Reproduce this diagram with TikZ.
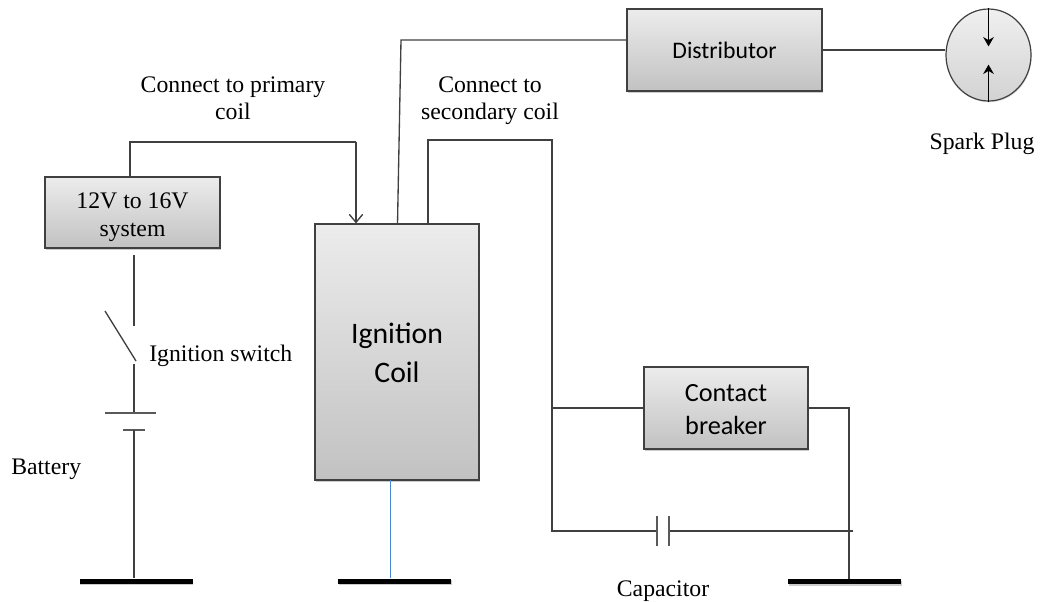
\documentclass[tikz,border=0pt]{standalone}
\usepackage{fontspec}
\setmainfont{Liberation Serif}
\newfontfamily\boxfont{Carlito}
\usetikzlibrary{arrows.meta,positioning,shapes.geometric,shadows}

\tikzset{
  wh/.style 2 args={minimum width=#1*0.75pt, minimum height=#2*0.75pt},
  gbox/.style={draw=black!75, line width=0.9pt, rectangle, inner sep=0pt, align=center,
    top color=gray!15, bottom color=gray!48, drop shadow={shadow xshift=0.8pt, shadow yshift=-1.6pt, opacity=0.4}},
  lbl/.style={inner sep=0pt, align=center, font=\fontsize{17.8}{20.4}\selectfont},
  wire/.style={draw=black!75, line width=1pt},
  plate/.style={draw=black!65, line width=0.9pt},
  gnd/.style={rectangle, fill=black, inner sep=0pt, wh={113}{5},
    drop shadow={shadow xshift=0.6pt, shadow yshift=-1.2pt, opacity=0.4}},
}

\begin{document}
\begin{tikzpicture}[x=0.75pt, y=-0.75pt, >=Stealth]
\useasboundingbox (0,0) rectangle (1044,601);

% boxes
\node[gbox, wh={175}{71}, font=\fontsize{17.8}{21}\selectfont] (sys) at (132.5,212.5) {\rule{0pt}{19pt}12V to 16V\\system};
\node[gbox, wh={164}{256}, font=\boxfont\fontsize{22.3}{29}\selectfont] (coil) at (397,352) {\rule{0pt}{16.5pt}Ignition\\Coil};
\node[gbox, wh={195}{82}, font=\boxfont\fontsize{17.8}{22}\selectfont] (dist) at (724.5,50) {Distributor};
\node[gbox, wh={164}{82}, font=\boxfont\fontsize{19.7}{25}\selectfont] (cb) at (726,408) {\rule{0pt}{15.5pt}Contact\\breaker};
\node[ellipse, draw=black!75, line width=0.9pt, inner sep=0pt, wh={85}{92},
  top color=gray!12, bottom color=gray!35,
  drop shadow={shadow xshift=0.5pt, shadow yshift=-1pt, opacity=0.25}] (plug) at (988.5,55) {};

% ground bars
\node[gnd] (gndL) at (136,581) {};
\node[gnd] (gndM) at (394.5,581) {};
\node[gnd] (gndR) at (844.5,581.5) {};

% labels
\node[lbl] (primLbl) at (233,98.5) {Connect to primary\\coil};
\node[lbl] (secLbl) at (490,101) {Connect to\\secondary coil};
\node[lbl] (plugLbl) at (982,144) {Spark Plug};
\node[lbl, anchor=west] (swLbl) at (149,356) {Ignition switch};
\node[lbl, anchor=west] (batLbl) at (11,469) {Battery};
\node[lbl] (capLbl) at (663,591) {Capacitor};

% corner points of the wiring
\coordinate (primA) at (130,142);
\coordinate (primB) at (356,142);
\coordinate (distA) at (397.5,224);
\coordinate (distB) at (401,40);
\coordinate (distC) at (627,40);
\coordinate (secA) at (428,140);
\coordinate (secB) at (552,140);
\coordinate (tee) at (552,408);
\coordinate (capL) at (552,531);
\coordinate (swTop) at (134,255);
\coordinate (swEnd) at (134,326);
\coordinate (swLow) at (134,364);
\coordinate (bladeA) at (105,311);
\coordinate (bladeB) at (136,361);
\coordinate (batA) at (134,413);
\coordinate (batB) at (134,430);
\coordinate (capA) at (657,531);
\coordinate (capB) at (669,531);
\coordinate (capR) at (853,531);
\coordinate (cbR) at (849,408);
\coordinate (blueA) at (390.5,480);

% primary side
\draw[wire] (sys.north -| primA) -- (primA) -- (primB);
\draw[wire, -{Straight Barb[length=6pt,width=10pt]}] (primB) -- (primB |- coil.north);

% switch and battery
\draw[wire] (swTop) -- (swEnd);
\draw[wire] (bladeA) -- (bladeB);
\draw[wire] (swLow) -- (batA);
\draw[plate] ([xshift=-21.75pt]batA) -- ([xshift=16.5pt]batA);
\draw[plate] ([xshift=-8pt]batB) -- ([xshift=8pt]batB);
\draw[wire] (batB) -- (batB |- gndL.north);

% distributor and plug
\draw[wire] (distA) -- (distB) -- (distC);
\draw[wire] (dist.east) -- (plug.west |- dist.east);
\draw[line width=1pt, -{Stealth[length=7pt,width=8pt]}] (plug.north) -- ++(0,38);
\draw[line width=1pt, -{Stealth[length=7pt,width=8pt]}] (plug.south) -- ++(0,-37);

% secondary side
\draw[wire] (secA |- coil.north) -- (secA) -- (secB) -- (capL) -- (capA);
\draw[wire] (tee) -- (cb.west);
\draw[wire] (cb.east) -- (cbR) -- (cbR |- gndR.north);
\draw[wire] (capB) -- (capR);
\draw[plate] ([yshift=11pt]capA) -- ([yshift=-11.5pt]capA);
\draw[plate] ([yshift=11.5pt]capB) -- ([yshift=-11.5pt]capB);

% coil ground
\draw[draw={rgb,255:red,70;green,135;blue,215}, line width=1pt] (blueA) -- (blueA |- gndM.north);

\end{tikzpicture}
\end{document}
